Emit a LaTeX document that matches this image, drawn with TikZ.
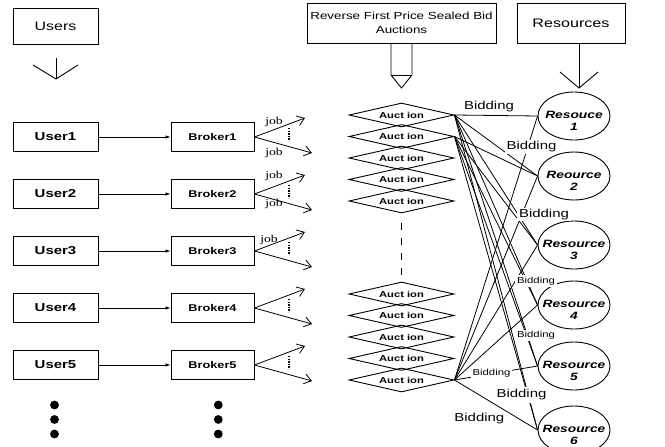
\documentclass[tikz,border=0pt]{standalone}
\usepackage{fontspec}
\setmainfont{Liberation Sans}
\newfontfamily\jobfont{Liberation Serif}
\usepackage{graphicx}
\usetikzlibrary{shapes.geometric,arrows.meta,calc}
\newcommand{\hstr}[1]{\scalebox{1.3}[1]{#1}}
\begin{document}
\begin{tikzpicture}[x=1pt,y=-1pt,line width=0.9pt,
  topbox/.style={draw, inner sep=0pt, align=center},
  ubox/.style={draw, minimum width=85pt, minimum height=29pt, inner sep=0pt, font=\fontsize{11.5}{13}\selectfont\bfseries},
  bbox/.style={draw, minimum width=83pt, minimum height=29pt, inner sep=0pt, font=\fontsize{9.8}{12}\selectfont\bfseries},
  auc/.style={draw, diamond, aspect=4.4, minimum width=105pt, minimum height=24pt, inner sep=0pt, font=\fontsize{8.6}{10}\selectfont\bfseries},
  res/.style={draw, ellipse, minimum width=72pt, minimum height=48pt, inner sep=0pt},
  restext/.style={align=center, inner sep=0pt, font=\fontsize{10.6}{11.7}\selectfont\bfseries\itshape},
  bigbid/.style={fill=white, inner xsep=2pt, inner ysep=1.5pt, font=\fontsize{11.5}{13}\selectfont},
  smallbid/.style={fill=white, inner xsep=2pt, inner ysep=1.5pt, font=\fontsize{8.7}{10}\selectfont},
  joblabel/.style={inner sep=0pt, font=\fontsize{10.5}{12}\selectfont\jobfont},
  uarrow/.style={line width=0.8pt, -{Latex[length=5pt,width=3.5pt]}},
  fan/.style={line width=0.8pt, -{Straight Barb[length=7pt,width=10pt]}},
  link/.style={line width=0.8pt},
  dotcol/.style={fill=black},
]
\useasboundingbox (0,0) rectangle (665,447);

% top boxes
\node[topbox, minimum width=85pt, minimum height=36pt, font=\fontsize{12.3}{14}\selectfont] (users) at (55.5,26) {\hstr{Users}};
\node[topbox, minimum width=189pt, minimum height=40pt, font=\fontsize{10.3}{14.5}\selectfont] (rfp) at (401.5,23) {\hstr{Reverse First Price Sealed Bid}\\\hstr{Auctions}};
\node[topbox, minimum width=108pt, minimum height=40pt, font=\fontsize{12.4}{14}\selectfont] (resources) at (571,23) {\hstr{Resources}};

% big arrows under the top boxes
\draw (56,58) -- (56,79);
\draw (33,65) -- (56,79) -- (78,65);
\draw (391,43) -- (391,75) -- (401.5,88) -- (412,75) -- (412,43);
\draw (391,75) -- (412,75);
\draw (579,43) -- (579,88);
\draw (560,72) -- (579,88) -- (598,72);

% users and brokers
\foreach \i/\y in {1/137,2/194,3/251,4/308,5/365}{
  \node[ubox] (u\i) at (55.5,\y) {\hstr{User\i}};
  \node[bbox] (b\i) at (212.5,\y) {\hstr{Broker\i}};
  \draw[uarrow] (u\i) -- (b\i);
  \coordinate (ju\i) at (305,{\y-19});
  \coordinate (jl\i) at (312,{\y+16});
  \draw[fan] (b\i.east) -- (ju\i);
  \draw[fan] (b\i.east) -- (jl\i);
  \draw[line width=2.6pt, dash pattern=on 1.4pt off 1.2pt] (289,{\y-9}) -- (289,{\y+4});
}
\node[joblabel] at (274,122) {\hstr{job}};
\node[joblabel] at (274,153) {\hstr{job}};
\node[joblabel] at (274,176) {\hstr{job}};
\node[joblabel] at (274,204) {\hstr{job}};
\node[joblabel] at (269,240) {\hstr{job}};

% dots
\foreach \y in {405,419.5,434}{
  \fill[dotcol] (54.5,\y) circle (4.4);
  \fill[dotcol] (218.3,\y) circle (4.4);
}

% auctions
\foreach \i/\y in {1/115,2/136.5,3/158,4/179.5,5/201,6/294,7/315.5,8/337,9/358.5,10/380}{
  \node[auc] (a\i) at (401.5,\y) {\hstr{Auct ion}};
}
\draw[dash pattern=on 7pt off 8pt] (401.5,223) -- (401.5,280);

% resources
\foreach \i/\y/\t in {1/116/Resouce,2/176/Reource,3/245/Resource,4/305/Resource,5/366/Resource,6/430/Resource}{
  \node[res] (r\i) at (574,\y) {};
  \node[restext] at ([yshift=-5pt]r\i.center) {\hstr{\t}\\\hstr{\i}};
}

% bidding links
\foreach \j in {1,...,6}{ \draw[link] (a1.east) -- (r\j.west); }
\foreach \j in {2,...,6}{ \draw[link] (a2.east) -- (r\j.west); }
\foreach \j in {1,...,6}{ \draw[link] (a10.east) -- (r\j.west); }

% bidding labels
\node[bigbid, inner ysep=0.5pt] at (489,107) {\hstr{Bidding}};
\node[bigbid] at (531.5,147) {\hstr{Bidding}};
\node[bigbid] at (544,214.5) {\hstr{Bidding}};
\node[smallbid] at (536,281) {\hstr{Bidding}};
\node[smallbid] at (536,335.5) {\hstr{Bidding}};
\node[smallbid] at (491.5,373) {\hstr{Bidding}};
\node[bigbid, inner ysep=3pt] at (521.5,395) {\hstr{Bidding}};
\node[bigbid, anchor=west] at (452,418.5) {\hstr{Bidding}\hspace{12pt}};
\end{tikzpicture}
\end{document}
